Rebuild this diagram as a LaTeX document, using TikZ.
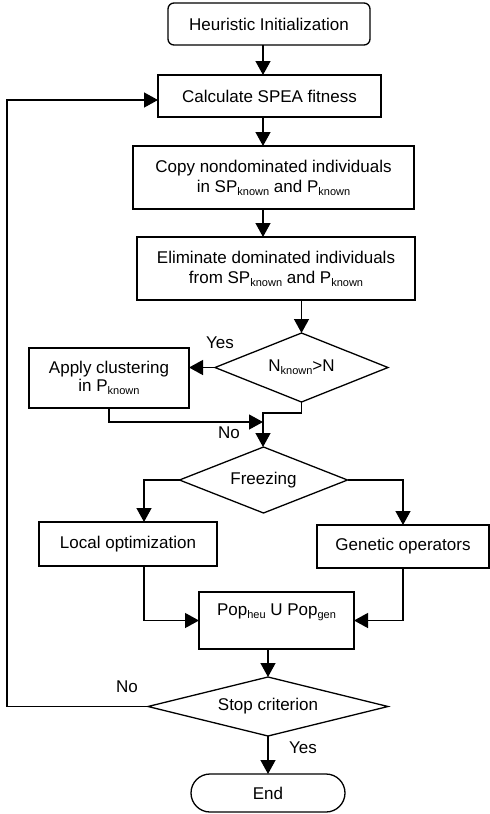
\documentclass[tikz,border=0pt]{standalone}
\usepackage{fontspec}
\setmainfont{Liberation Sans}
\usetikzlibrary{positioning,arrows.meta,calc,shapes.geometric}
\newcommand{\subtxt}[1]{\raisebox{-0.35ex}{\fontsize{5.5}{6}\selectfont #1}}

\begin{document}
\begin{tikzpicture}[x=0.5pt, y=-0.5pt,
  proc/.style={rectangle, draw, line width=0.65pt, inner sep=0pt, outer sep=0pt,
               align=center, font=\fontsize{8.5}{10}\selectfont},
  term/.style={proc, rounded corners=3pt},
  test/.style={diamond, draw, line width=0.65pt, inner sep=0pt, outer sep=0pt,
               align=center, font=\fontsize{8.5}{10}\selectfont},
  tag/.style={inner sep=0pt, font=\fontsize{8.5}{10}\selectfont},
  arr/.style={-{Triangle[length=7pt, width=7.5pt]}, line width=0.65pt}
]
\useasboundingbox (0,0) rectangle (490,814);

% --- main column ---
\node[term, minimum width=101pt, minimum height=21pt] (init) at (269,24)
  {Heuristic Initialization};
\node[proc, minimum width=111.5pt, minimum height=21pt] (fitness) at (269.5,96)
  {Calculate SPEA fitness};
\node[proc, minimum width=140.5pt, minimum height=31.5pt] (copy) at (273.5,177.5)
  {Copy nondominated individuals\\in SP\subtxt{known} and P\subtxt{known}};
\node[proc, minimum width=139pt, minimum height=31.5pt] (elim) at (276,268.5)
  {Eliminate dominated individuals\\from SP\subtxt{known} and P\subtxt{known}};

% --- archive size test ---
\node[test, aspect=2.5, minimum width=86.5pt, minimum height=34.5pt] (size)
  at (301.5,367.5) {N\subtxt{known}>N};
\node[proc, minimum width=80pt, minimum height=30pt,
      font=\fontsize{8.5}{7.5}\selectfont] (clus) at (109,378)
  {Apply clustering\\in P\subtxt{known}};
\node[tag] (yes1) at (220,343) {Yes};
\node[tag] (no1) at (229,433) {No};

% --- freezing branch ---
\node[test, aspect=2.55, minimum width=84pt, minimum height=33pt] (freeze)
  at (263.5,480) {Freezing};
\node[proc, minimum width=89pt, minimum height=22pt] (local) at (128,544)
  {Local optimization};
\node[proc, minimum width=86pt, minimum height=21.5pt] (genetic) at (403,546.5)
  {Genetic operators};
\node[proc, minimum width=77.5pt, minimum height=28.5pt,
      text height=6.5pt, text depth=12pt] (union) at (276.5,620.5)
  {Pop\subtxt{heu} U Pop\subtxt{gen}};

% --- stop test ---
\node[test, aspect=4.07, minimum width=120pt, minimum height=29.5pt] (stop)
  at (268,706.5) {Stop criterion};
\node[term, rounded corners=9.5pt, minimum width=77pt, minimum height=19pt]
  (finish) at (268,793) {End};
\node[tag] (no2) at (127,687) {No};
\node[tag] (yes2) at (303,748) {Yes};

% --- helper points ---
\coordinate (spine) at (263,0);
\coordinate (join) at (263,413);
\coordinate (clusin) at (263,422);
\coordinate (lbranch) at (144,0);
\coordinate (back) at (7,100);

% --- connectors ---
\draw[arr] (init.south -| spine) -- (fitness.north -| spine);
\draw[arr] (fitness.south -| spine) -- (copy.north -| spine);
\draw[arr] (copy.south -| spine) -- (elim.north -| spine);
\draw[arr] (elim.south -| size.north) -- (size.north);
\draw[arr] (size.west) -- (size.west -| clus.east);
\draw[arr] (size.south) |- (join) -- (join |- freeze.north);
\draw[arr] (clus.south) |- (clusin);
\draw[arr] (freeze.west) -| (lbranch |- local.north);
\draw[arr] (freeze.east) -| (genetic.north);
\draw[arr] (lbranch |- local.south) |- (union.west);
\draw[arr] (genetic.south) |- (union.east);
\draw[arr] (union.south -| stop.north) -- (stop.north);
\draw[arr] (stop.west) -| (back) -- (back -| fitness.west);
\draw[arr] (stop.south) -- (finish.north);

\end{tikzpicture}
\end{document}
